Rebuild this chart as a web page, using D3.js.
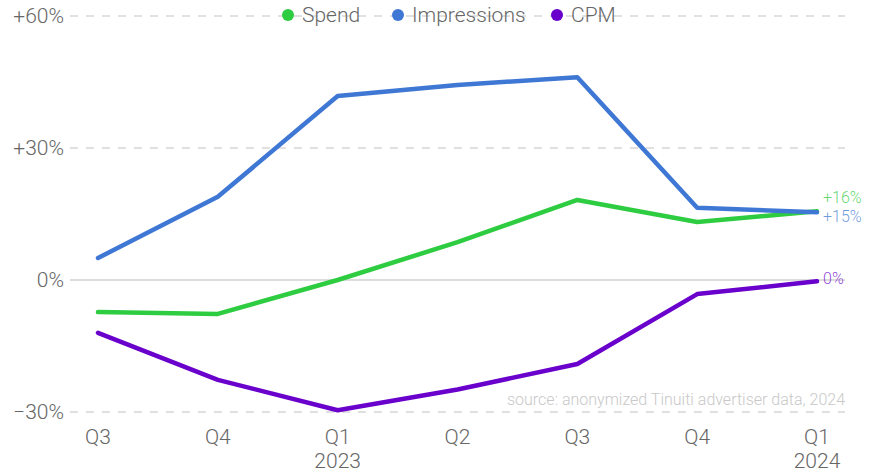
<!DOCTYPE html>
<meta charset="utf-8">
<style>
  body { margin: 0; background: #fff; }
  text { font-family: Roboto, sans-serif; font-weight: 300; }
</style>
<body>
<div id="chart"></div>
<script src="https://cdn.jsdelivr.net/npm/d3@7"></script>
<script>

var width = 877,
    height = 472;

var quarters = ["Q3", "Q4", "Q1", "Q2", "Q3", "Q4", "Q1"];
var years = ["", "", "2023", "", "", "", "2024"];
var spend = [-7.3, -7.7, 0, 8.6, 18.2, 13.2, 15.6];
var impressions = [5.0, 18.9, 41.8, 44.3, 46.1, 16.4, 15.4];
var cpm = [-12.0, -22.7, -29.6, -24.9, -19.1, -3.2, -0.3];
var yTicks = [-30, 0, 30, 60];

var series = [
  { name: "Spend", values: spend, color: "#2ecc40", end: "+16%", dy: -13 },
  { name: "Impressions", values: impressions, color: "#3f78d4", end: "+15%", dy: 5 },
  { name: "CPM", values: cpm, color: "#6a00cc", end: "0%", dy: -2 }
];

var x = d3.scalePoint()
    .domain(d3.range(quarters.length))
    .range([98, 817]);

var y = d3.scaleLinear()
    .domain([-30, 60])
    .range([412, 16]);

var svg = d3.select("#chart").append("svg")
    .attr("width", width)
    .attr("height", height);

// grid
svg.selectAll(".grid")
    .data(yTicks)
  .enter().append("line")
    .attr("x1", 70)
    .attr("x2", 845)
    .attr("y1", function(d) { return y(d); })
    .attr("y2", function(d) { return y(d); })
    .attr("stroke", function(d) { return d === 0 ? "#dcdcdc" : "#d6d6d6"; })
    .attr("stroke-width", function(d) { return d === 0 ? 2 : 1.3; })
    .attr("stroke-dasharray", function(d) { return d === 0 ? null : "8,8"; });

svg.selectAll(".ylab")
    .data(yTicks)
  .enter().append("text")
    .attr("x", 64)
    .attr("y", function(d) { return y(d) + 7; })
    .attr("text-anchor", "end")
    .attr("fill", "#666")
    .attr("font-size", 21)
    .text(function(d) { return d > 0 ? "+" + d + "%" : d < 0 ? "\u2212" + (-d) + "%" : "0%"; });

// x labels
svg.selectAll(".xlab")
    .data(quarters)
  .enter().append("text")
    .attr("x", function(d, i) { return x(i); })
    .attr("y", 444)
    .attr("text-anchor", "middle")
    .attr("fill", "#666")
    .attr("font-size", 21)
    .text(function(d) { return d; });

svg.selectAll(".yearlab")
    .data(years)
  .enter().append("text")
    .attr("x", function(d, i) { return x(i); })
    .attr("y", 468)
    .attr("text-anchor", "middle")
    .attr("fill", "#666")
    .attr("font-size", 21)
    .text(function(d) { return d; });

// source
svg.append("text")
    .attr("x", 845)
    .attr("y", 405)
    .attr("text-anchor", "end")
    .attr("fill", "#c8c8c8")
    .attr("font-size", 16)
    .text("source: anonymized Tinuiti advertiser data, 2024");

var line = d3.line()
    .x(function(d, i) { return x(i); })
    .y(function(d) { return y(d); });

svg.selectAll(".series")
    .data(series)
  .enter().append("path")
    .attr("d", function(d) { return line(d.values); })
    .attr("fill", "none")
    .attr("stroke", function(d) { return d.color; })
    .attr("stroke-width", 4.5)
    .attr("stroke-linejoin", "round")
    .attr("stroke-linecap", "round");

svg.selectAll(".endlab")
    .data(series)
  .enter().append("text")
    .attr("x", 823)
    .attr("y", function(d) { return y(d.values[d.values.length - 1]) + 5 + d.dy; })
    .attr("fill", function(d) { return d.color; })
    .attr("fill-opacity", 0.75)
    .attr("font-size", 16)
    .text(function(d) { return d.end; });

// legend
var legendX = [288, 398, 557];
var legend = svg.selectAll(".legend")
    .data(series)
  .enter().append("g")
    .attr("transform", function(d, i) { return "translate(" + legendX[i] + "," + 15 + ")"; });

legend.append("circle")
    .attr("r", 6)
    .attr("fill", function(d) { return d.color; });

legend.append("text")
    .attr("x", 14)
    .attr("y", 7)
    .attr("fill", "#666")
    .attr("font-size", 21)
    .text(function(d) { return d.name; });

</script>
</body>
